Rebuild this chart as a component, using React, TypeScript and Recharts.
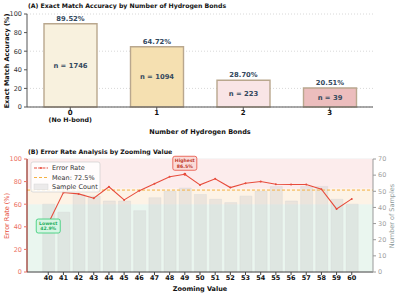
import {
  BarChart,
  Bar,
  XAxis,
  YAxis,
  CartesianGrid,
  LabelList,
  Cell,
  ComposedChart,
  Line,
  ReferenceArea,
  ReferenceLine,
  ReferenceDot,
} from "recharts";

// (A) accuracy by number of hydrogen bonds
const hbondCats = ["0", "1", "2", "3"];
const hbondSub = ["(No H-bond)", "", "", ""];
const hbondAcc = [89.52, 64.72, 28.7, 20.51];
const hbondN = [1746, 1094, 223, 39];
const hbondColors = ["#f8f1de", "#f5e0b1", "#f9e5e6", "#ecbdbd"];
const accTicks = [0, 20, 40, 60, 80, 100];

// (B) error rate by zooming value
const zoomValues = [40, 41, 42, 43, 44, 45, 46, 47, 48, 49, 50, 51, 52, 53, 54, 55, 56, 57, 58, 59, 60];
const errorRates = [42.9, 70.3, 69.1, 65.3, 75.4, 63.8, 72.0, 78.0, 84.3, 86.5, 77.1, 82.5, 74.7, 78.6, 80.1, 77.7, 77.4, 77.4, 73.3, 55.8, 64.7];
const sampleCounts = [42, 37, 48, 47, 44, 44, 38, 46, 50, 52, 48, 45, 43, 47, 50, 53, 44, 53, 53, 45, 42];
const meanError = 72.5;
const errTicks = [0, 20, 40, 60, 80, 100];
const sampleTicks = [0, 10, 20, 30, 40, 50, 60, 70];

const FONT = "DejaVu Sans";

const dataA = hbondCats.map((c, i) => ({ cat: c, sub: hbondSub[i], acc: hbondAcc[i], n: hbondN[i] }));
const dataB = zoomValues.map((z, i) => ({ zoom: z, err: errorRates[i], samples: sampleCounts[i] }));

const minIdx = errorRates.indexOf(Math.min(...errorRates));
const maxIdx = errorRates.indexOf(Math.max(...errorRates));

const HbondTick = (props: any) => {
  const { x, y, payload, index } = props;
  const sub = hbondSub[index] || "";
  return (
    <g>
      <text x={x} y={y} dy="0.71em" textAnchor="middle" fontFamily={FONT} fontSize={7} fontWeight="bold" fill="#111">
        {payload.value}
      </text>
      {sub && (
        <text x={x} y={y + 7.5} dy="0.71em" textAnchor="middle" fontFamily={FONT} fontSize={6.3} fontWeight="bold" fill="#111">
          {sub}
        </text>
      )}
    </g>
  );
};

const topLabel = (props: any) => {
  const { x, y, width, value } = props;
  return (
    <text x={x + width / 2} y={y - 3} textAnchor="middle" fontFamily={FONT} fontSize={6.8} fontWeight="bold" fill="#34495e">
      {Number(value).toFixed(2)}%
    </text>
  );
};

const centerLabel = (props: any) => {
  const { x, y, width, height, value } = props;
  return (
    <text x={x + width / 2} y={y + height / 2} dy="0.35em" textAnchor="middle" fontFamily={FONT} fontSize={6.8} fontWeight="bold" fill="#34495e">
      n = {value}
    </text>
  );
};

const annotBox = (title: string, value: number, dy: number, fill: string, stroke: string, color: string) => (props: any) => {
  const { cx, cy } = props;
  const w = 24;
  const h = 14;
  const mx = cx;
  const my = cy + dy;
  return (
    <g>
      <circle cx={cx} cy={cy} r={1.4} fill="#e74c3c" />
      <rect x={mx - w / 2} y={my - h / 2} width={w} height={h} rx={2} fill={fill} stroke={stroke} strokeWidth={0.8} />
      <text x={mx} y={my - 1.2} textAnchor="middle" fontFamily={FONT} fontSize={4.6} fontWeight="bold" fill={color}>
        {title}
      </text>
      <text x={mx} y={my + 4.4} textAnchor="middle" fontFamily={FONT} fontSize={4.6} fontWeight="bold" fill={color}>
        {value.toFixed(1)}%
      </text>
    </g>
  );
};

export default function App() {
  return (
    <div style={{ position: "absolute", left: 0, top: 0, width: 397, height: 294, background: "#fff" }}>
      <div style={{ position: "absolute", left: 0, top: 0 }}>
        <BarChart width={397} height={145} data={dataA} margin={{ top: 14, right: 24, left: 0, bottom: 0 }}>
          <CartesianGrid vertical={false} stroke="#d8d8d8" strokeDasharray="1 2" />
          <XAxis
            dataKey="cat"
            height={38}
            tick={<HbondTick />}
            tickSize={3}
            tickMargin={0}
            axisLine={{ stroke: "#555", strokeWidth: 1 }}
            tickLine={{ stroke: "#555" }}
            interval={0}
          />
          <YAxis
            domain={[0, 100]}
            ticks={accTicks}
            width={27}
            tickSize={3}
            tickMargin={2}
            tick={{ fontSize: 6.5, fontFamily: FONT, fill: "#333" }}
            axisLine={{ stroke: "#555", strokeWidth: 1 }}
            tickLine={{ stroke: "#555" }}
          />
          <Bar dataKey="acc" barSize={53} stroke="#b9a78e" strokeWidth={1.4} isAnimationActive={false}>
            {dataA.map((d, i) => (
              <Cell key={d.cat} fill={hbondColors[i]} />
            ))}
            <LabelList dataKey="acc" content={topLabel} />
            <LabelList dataKey="n" content={centerLabel} />
          </Bar>
        </BarChart>
      </div>

      <div style={{ position: "absolute", left: 0, top: 145 }}>
        <ComposedChart width={397} height={149} data={dataB} margin={{ top: 14, right: 0, left: 0, bottom: 0 }}>
          <ReferenceArea yAxisId="left" y1={0} y2={60} fill="#eaf6ef" fillOpacity={1} stroke="none" />
          <ReferenceArea yAxisId="left" y1={60} y2={74} fill="#fdf3e6" fillOpacity={1} stroke="none" />
          <ReferenceArea yAxisId="left" y1={74} y2={100} fill="#fcecec" fillOpacity={1} stroke="none" />
          <CartesianGrid yAxisId="left" vertical={false} stroke="#dcdcdc" strokeOpacity={0.5} />
          <XAxis
            dataKey="zoom"
            type="number"
            domain={[38.6, 61.4]}
            ticks={zoomValues}
            interval={0}
            allowDataOverflow
            height={22}
            tickSize={3}
            tickMargin={0}
            tick={{ fontSize: 6.5, fontFamily: FONT, fontWeight: "bold", fill: "#111" }}
            axisLine={{ stroke: "#444" }}
            tickLine={{ stroke: "#444" }}
          />
          <YAxis
            yAxisId="left"
            domain={[0, 100]}
            ticks={errTicks}
            width={27}
            tickSize={3}
            tickMargin={2}
            tick={{ fontSize: 6.5, fontFamily: FONT, fill: "#ec7063" }}
            axisLine={{ stroke: "#922b21", strokeWidth: 1.2 }}
            tickLine={{ stroke: "#ec7063" }}
          />
          <YAxis
            yAxisId="right"
            orientation="right"
            domain={[0, 70]}
            ticks={sampleTicks}
            width={24}
            tickSize={3}
            tickMargin={2}
            tick={{ fontSize: 6.5, fontFamily: FONT, fill: "#a0a0a0" }}
            axisLine={{ stroke: "#9a9a9a" }}
            tickLine={{ stroke: "#9a9a9a" }}
          />
          <Bar
            yAxisId="right"
            dataKey="samples"
            barSize={12}
            fill="#c9c9c9"
            fillOpacity={0.35}
            stroke="#d6d6d6"
            strokeOpacity={0.6}
            strokeWidth={0.6}
            isAnimationActive={false}
          />
          <ReferenceLine yAxisId="left" y={meanError} stroke="#f5b041" strokeWidth={1} strokeDasharray="3 2" />
          <Line
            yAxisId="left"
            dataKey="err"
            stroke="#e74c3c"
            strokeWidth={1.1}
            dot={{ r: 1, fill: "#e74c3c", stroke: "#e74c3c", strokeWidth: 0 }}
            isAnimationActive={false}
          />
          <ReferenceDot
            yAxisId="left"
            x={zoomValues[minIdx]}
            y={errorRates[minIdx]}
            ifOverflow="visible"
            shape={annotBox("Lowest", errorRates[minIdx], 2.5, "#d5f5e3", "#2ecc71", "#27ae60")}
          />
          <ReferenceDot
            yAxisId="left"
            x={zoomValues[maxIdx]}
            y={errorRates[maxIdx]}
            ifOverflow="visible"
            shape={annotBox("Highest", errorRates[maxIdx], -11, "#fadbd8", "#e74c3c", "#c0392b")}
          />
        </ComposedChart>
      </div>

      <svg width={397} height={294} style={{ position: "absolute", left: 0, top: 0, pointerEvents: "none" }}>
        <text x={28} y={7.5} fontFamily={FONT} fontSize={6.2} fontWeight="bold" fill="#111">
          (A) Exact Match Accuracy by Number of Hydrogen Bonds
        </text>
        <text x={0} y={0} transform="translate(8.5,61) rotate(-90)" textAnchor="middle" fontFamily={FONT} fontSize={6.5} fontWeight="bold" fill="#111">
          Exact Match Accuracy (%)
        </text>
        <text x={200} y={133.5} textAnchor="middle" fontFamily={FONT} fontSize={6.5} fontWeight="bold" fill="#111">
          Number of Hydrogen Bonds
        </text>

        <text x={28} y={153.5} fontFamily={FONT} fontSize={6.2} fontWeight="bold" fill="#111">
          (B) Error Rate Analysis by Zooming Value
        </text>
        <text x={0} y={0} transform="translate(8.5,216) rotate(-90)" textAnchor="middle" fontFamily={FONT} fontSize={6.5} fill="#e74c3c">
          Error Rate (%)
        </text>
        <text x={0} y={0} transform="translate(394,216) rotate(-90)" textAnchor="middle" fontFamily={FONT} fontSize={6.5} fill="#8e9a9b">
          Number of Samples
        </text>
        <text x={200} y={291} textAnchor="middle" fontFamily={FONT} fontSize={6.5} fontWeight="bold" fill="#111">
          Zooming Value
        </text>

        <g>
          <rect x={31} y={162} width={69} height={30} rx={2} fill="#ffffff" fillOpacity={0.85} stroke="#cfcfcf" strokeWidth={0.7} />
          <line x1={34} y1={168} x2={48} y2={168} stroke="#e74c3c" strokeWidth={1.1} strokeDasharray="3 1.2" />
          <circle cx={41} cy={168} r={1} fill="#e74c3c" />
          <text x={52} y={170.3} fontFamily={FONT} fontSize={6.5} fill="#333">Error Rate</text>
          <line x1={34} y1={177.5} x2={48} y2={177.5} stroke="#f5b041" strokeWidth={1} strokeDasharray="3 2" />
          <text x={52} y={179.8} fontFamily={FONT} fontSize={6.5} fill="#333">Mean: {meanError}%</text>
          <rect x={34} y={184} width={14} height={5.5} fill="#c9c9c9" fillOpacity={0.35} stroke="#d6d6d6" strokeWidth={0.5} />
          <text x={52} y={189.3} fontFamily={FONT} fontSize={6.5} fill="#333">Sample Count</text>
        </g>
      </svg>
    </div>
  );
}
